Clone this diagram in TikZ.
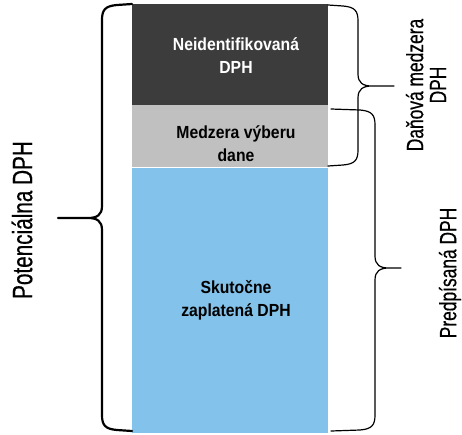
\documentclass[tikz,border=0pt]{standalone}
\usepackage{fontspec}
\newfontfamily\barfont[FakeStretch=0.9]{Liberation Sans}
\newfontfamily\sidefont[FakeStretch=0.74, FakeBold=0.5]{Liberation Sans}
\usetikzlibrary{positioning}
\definecolor{dphdark}{RGB}{60,60,60}
\definecolor{dphgray}{RGB}{192,192,192}
\definecolor{dphblue}{RGB}{131,194,234}
\tikzset{
  %% ---- bar ----
  seg/.style      = {rectangle, inner sep=0pt, draw=none,
                     minimum width=196pt, minimum height=#1},
  bartext/.style  = {align=center, inner sep=0pt,
                     font=\barfont\bfseries\fontsize{17.5}{23}\selectfont},
  %% ---- side labels ----
  sidetext/.style = {align=center, rotate=90, inner sep=0pt,
                     font=\sidefont\fontsize{23.5}{23}\selectfont},
  bracelin/.style = {line width=#1, black, line join=round, line cap=round},
  bracelin/.default = 1.2pt,
}
% curly brace: #1 base x, #2 spine x, #3 tip x, #4 top y, #5 tip y,
% #6 bottom y, #7 side (1 = right, -1 = left), #8 draw options
\newcommand\dphbrace[8]{%
  \draw[#8] (#1,#4) -- ({#2-(#7)*15},{#4+1})
    .. controls ({#2-(#7)*3},{#4+2}) and (#2,{#4+6}) .. (#2,{#4+16})
    -- (#2,{#5-12})
    .. controls (#2,{#5-3}) and ({#2+(#7)*5},#5) .. ({#2+(#7)*14},#5)
    -- (#3,#5) -- ({#2+(#7)*14},#5)
    .. controls ({#2+(#7)*5},#5) and (#2,{#5+3}) .. (#2,{#5+12})
    -- (#2,{#6-16})
    .. controls (#2,{#6-6}) and ({#2-(#7)*3},{#6-2}) .. ({#2-(#7)*15},{#6-1})
    -- (#1,#6);}
\begin{document}
\begin{tikzpicture}[x=1pt, y=-1pt]
\useasboundingbox (0,0) rectangle (462,434);

% stacked bar
\node[seg=101pt, fill=dphdark] (neid) at (230,54.5) {};
\node[seg=62pt,  fill=dphgray, below=0pt of neid]  (vyber) {};
\node[seg=265pt, fill=dphblue, below=0pt of vyber] (zapl)  {};

% bar texts
\node[bartext, text=white] (neidtxt) at ([xshift=6pt, yshift=-1.5pt]neid.center)
  {Neidentifikovaná\\DPH};
\node[bartext] (vybertxt) at ([xshift=6pt, yshift=-7pt]vyber.center)
  {Medzera výberu\\dane};
\node[bartext] (zapltxt) at ([xshift=6pt]zapl.center)
  {Skutočne\\zaplatená DPH};

% braces
\dphbrace{132}{102}{58}{4}{218}{431}{-1}{bracelin=2.2pt}
\dphbrace{328}{358}{394}{5}{86}{166}{1}{bracelin}
\dphbrace{331}{375}{401}{109}{268}{431}{1}{bracelin}

% side labels
\node[sidetext, font=\sidefont\fontsize{28}{28}\selectfont] (potenc) at (22,220)
  {Potenciálna DPH};
\node[sidetext] (danova) at (426,85) {Daňová medzera\\DPH};
\node[sidetext] (predp)  at (450,273) {Predpísaná DPH};

\end{tikzpicture}
\end{document}
